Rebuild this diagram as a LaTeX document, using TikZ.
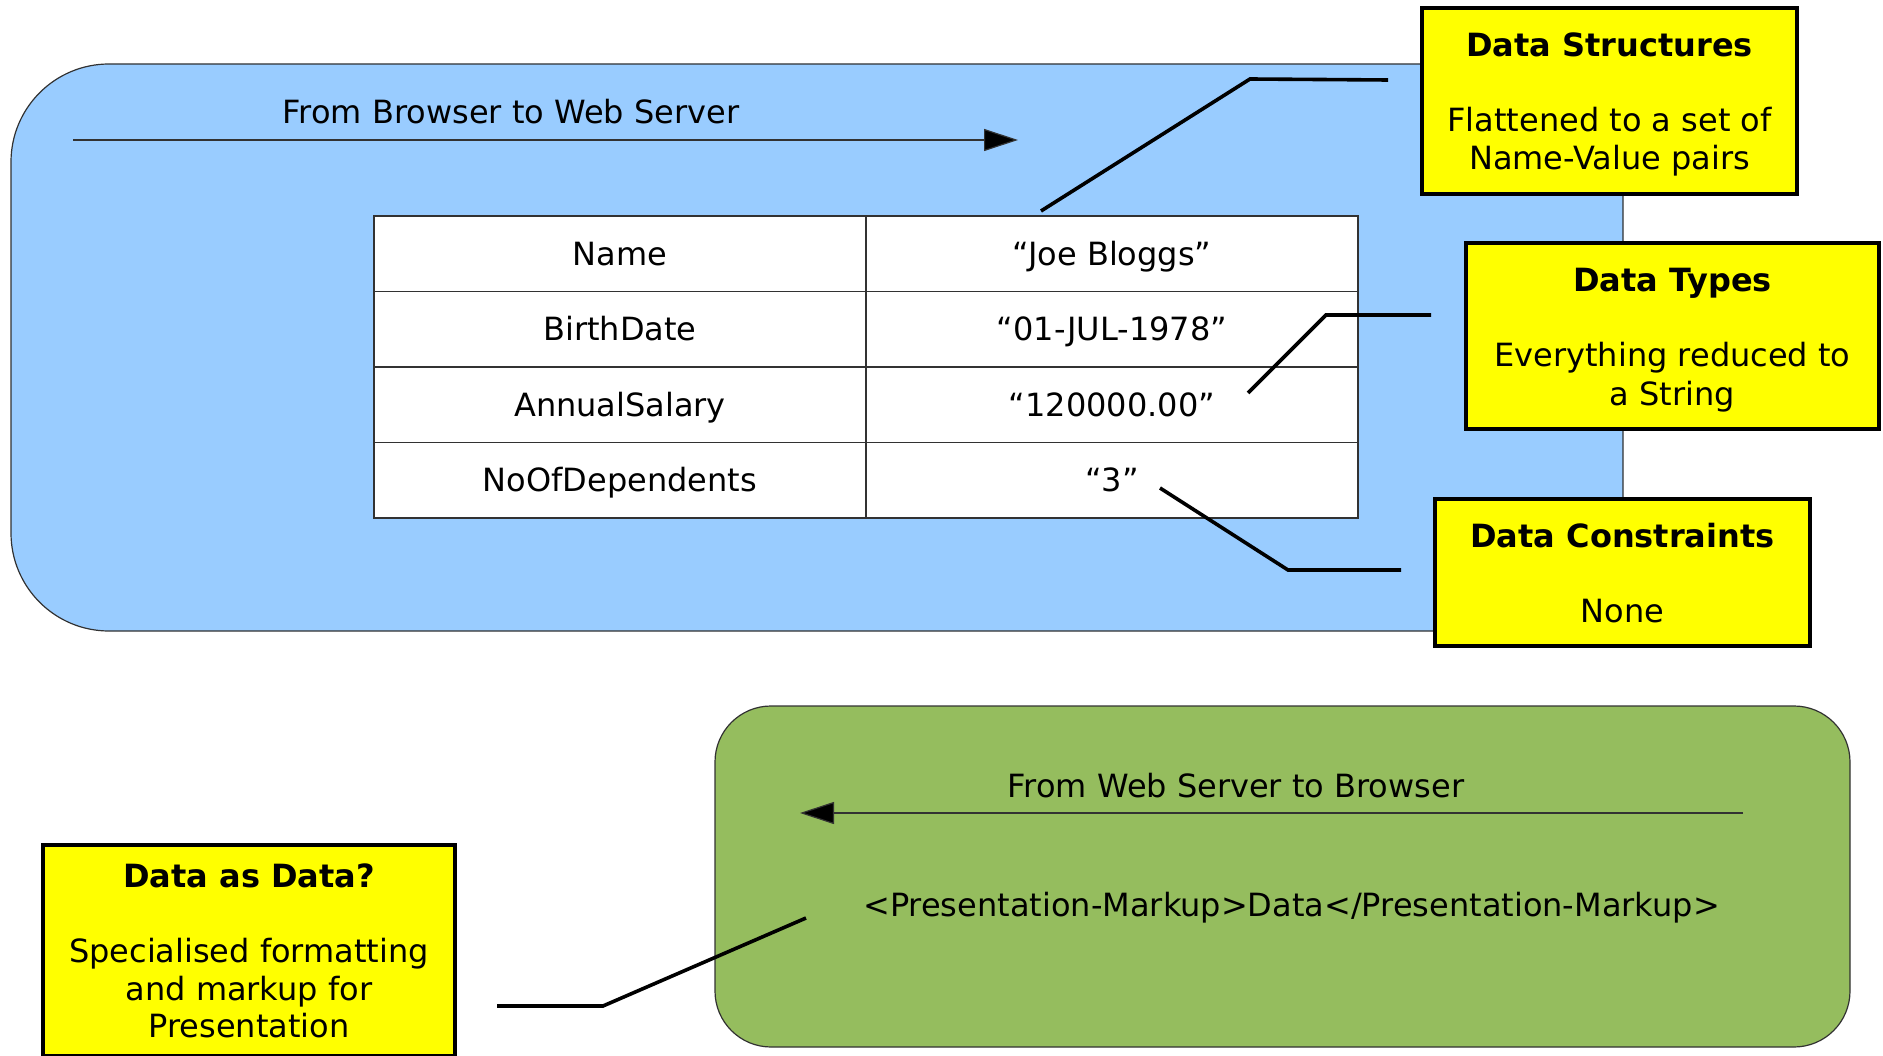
\documentclass[tikz,border=0pt]{standalone}
\usepackage{fontspec}
\setmainfont{DejaVu Sans}
\usetikzlibrary{arrows.meta}
\definecolor{panelblue}{RGB}{153,204,255}
\definecolor{panelgreen}{RGB}{149,189,94}
\definecolor{noteyellow}{RGB}{255,255,0}
\definecolor{edgegray}{RGB}{50,50,50}
\begin{document}
\begin{tikzpicture}[x=1pt,y=-1pt,
  every node/.style={font=\fontsize{32}{37.5}\selectfont, inner sep=0pt},
  panel/.style={draw=edgegray, line width=1.2pt, rounded corners=#1},
  cell/.style={draw=edgegray, line width=1.4pt, fill=white,
    minimum width=492pt, minimum height=75.5pt, text height=28pt, text depth=4.5pt},
  note/.style={draw=black, line width=4pt, fill=noteyellow},
  notetext/.style={align=center},
  callout/.style={line width=3.6pt, line join=miter},
  flow/.style={draw=edgegray, line width=1.2pt, -{Triangle[length=34pt,width=22pt,fill=black]}},
  label/.style={anchor=base}
]
\useasboundingbox (0,0) rectangle (1883,1056);

% request panel (browser -> server)
\draw[panel=98, fill=panelblue] (11,64) rectangle (1623,631);
\node[label] (reqlabel) at (511,124) {From Browser to Web Server};
\coordinate (reqfrom) at (73,140);
\coordinate (reqto) at (1018,140);
\draw[flow] (reqfrom) -- (reqto);

% name/value table
\node[cell] (n1) at (620,253.75) {Name};
\node[cell] (v1) at (1112,253.75) {“Joe Bloggs”};
\node[cell] (n2) at (620,329.25) {BirthDate};
\node[cell] (v2) at (1112,329.25) {“01-JUL-1978”};
\node[cell] (n3) at (620,404.75) {AnnualSalary};
\node[cell] (v3) at (1112,404.75) {“120000.00”};
\node[cell] (n4) at (620,480.25) {NoOfDependents};
\node[cell] (v4) at (1112,480.25) {“3”};

% response panel (server -> browser)
\draw[panel=56, fill=panelgreen] (715,706) rectangle (1850,1047);
\node[label] (resplabel) at (1236,797) {From Web Server to Browser};
\coordinate (respfrom) at (1743,813);
\coordinate (respto) at (800,813);
\draw[flow] (respfrom) -- (respto);
\node[label] (markup) at (1291.5,916.5) {<Presentation-Markup>Data</Presentation-Markup>};

% notes: box first, then its text (yshift is in page units, so negative moves down)
\node[note, minimum width=375pt, minimum height=186pt] (structures) at (1609.5,101) {};
\node[notetext] (structurestext) at ([yshift=-3.5pt]structures.center)
  {\textbf{Data Structures}\\[37.5pt]Flattened to a set of\\Name-Value pairs};
\node[note, minimum width=413pt, minimum height=186pt] (types) at (1672.5,336) {};
\node[notetext] (typestext) at ([yshift=-4pt]types.center)
  {\textbf{Data Types}\\[37.5pt]Everything reduced to\\[1.5pt]a String};
\node[note, minimum width=375pt, minimum height=147pt] (constraints) at (1622.5,572.5) {};
\node[notetext] (constraintstext) at ([yshift=-1pt]constraints.center)
  {\textbf{Data Constraints}\\[37.5pt]None};
\node[note, minimum width=412pt, minimum height=211pt] (asdata) at (249,950.5) {};
\node[notetext] (asdatatext) at ([yshift=-0.5pt]asdata.center)
  {\textbf{Data as Data?}\\[37.5pt]Specialised formatting\\and markup for\\Presentation};

% callout leaders
\coordinate (s0) at (1041,211);
\coordinate (s1) at (1250,79);
\coordinate (s2) at (1388,80);
\draw[callout] (s0) -- (s1) -- (s2);
\coordinate (t0) at (1248,393);
\coordinate (t1) at (1326,315);
\coordinate (t2) at (1431,315);
\draw[callout] (t0) -- (t1) -- (t2);
\coordinate (c0) at (1160,488);
\coordinate (c1) at (1288,570);
\coordinate (c2) at (1401,570);
\draw[callout] (c0) -- (c1) -- (c2);
\coordinate (d0) at (806,918);
\coordinate (d1) at (603,1006);
\coordinate (d2) at (497,1006);
\draw[callout] (d0) -- (d1) -- (d2);
\end{tikzpicture}
\end{document}
